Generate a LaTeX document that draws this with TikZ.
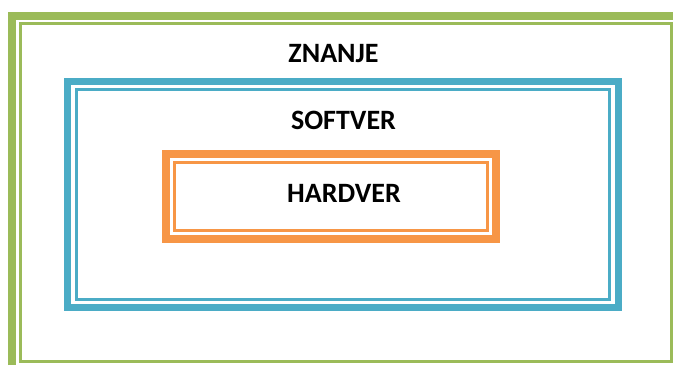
\documentclass[tikz,border=0pt]{standalone}
\usepackage{fontspec}
\setmainfont{Carlito}
\definecolor{ogreen}{HTML}{9BBB59}
\definecolor{oblue}{HTML}{4BACC6}
\definecolor{oorange}{HTML}{F79646}
\tikzset{
  thickline/.style={line width=8pt},
  thinline/.style={line width=3pt},
  lbl/.style={font=\fontsize{28}{32}\selectfont\bfseries, anchor=base, inner sep=0pt}
}
\begin{document}
\begin{tikzpicture}[x=1pt,y=-1pt]
\useasboundingbox (0,0) rectangle (673,365);
% green outer frame (thick part only top and left visible)
\draw[thickline, ogreen] (12,365) -- (12,16) -- (673,16);
\draw[thinline, ogreen] (20.5,23.5) rectangle (671.5,361.5);
% blue frame
\draw[line width=7pt, oblue] (67.5,81.5) rectangle (618.5,307.5);
\draw[thinline, oblue] (76.5,89.5) rectangle (609.5,299.5);
% orange frame
\draw[thickline, oorange] (166,154) rectangle (496,239);
\draw[thinline, oorange] (174.5,162.5) rectangle (487.5,230.5);
% labels
\node[lbl] (znanje) at (333.5,62) {ZNANJE};
\node[lbl] (softver) at (343.5,129) {SOFTVER};
\node[lbl] (hardver) at (344,202) {HARDVER};
\end{tikzpicture}
\end{document}
